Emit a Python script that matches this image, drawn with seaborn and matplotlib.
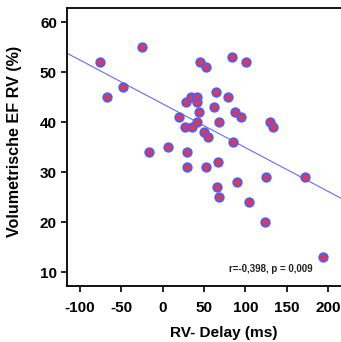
import numpy as np
import pandas as pd
import matplotlib
matplotlib.use("Agg")
import matplotlib.pyplot as plt
import seaborn as sns

rv_delay = [-76, -66.7, -48, -25.5, -16, 6, 20, 27, 28, 29.5, 29, 34, 36, 41, 42, 41,
            44, 45, 50.5, 53, 53, 55, 62, 64, 66, 67, 68, 68.7, 79, 84, 85, 87.7, 90,
            95, 101, 104.6, 124, 125, 130, 133, 171.7, 193.5]
ef_rv = [52, 45, 47, 55, 34, 35, 41, 39, 44, 34, 31, 45, 39, 45, 44, 40,
         42, 52, 38, 51, 31, 37, 43, 46, 27, 32, 25, 40, 45, 53, 36, 42, 28,
         41, 52, 24, 20, 29, 40, 39, 29, 13]
x_ticks = [-100, -50, 0, 50, 100, 150, 200]
y_ticks = [10, 20, 30, 40, 50, 60]
annotation = "r=-0,398, p = 0,009"

df = pd.DataFrame({"x": rv_delay, "y": ef_rv})

sns.set_style("ticks")
plt.rcParams["font.family"] = ["Liberation Sans", "DejaVu Sans"]
plt.rcParams["axes.unicode_minus"] = False

fig = plt.figure(figsize=(3.41, 3.42), dpi=100)
ax = fig.add_axes([0.1955, 0.1637, 0.815, 0.812])
ax.set_xlim(-116, 220)
ax.set_ylim(7.25, 62.8)

slope, intercept = np.polyfit(df["x"], df["y"], 1)
xs = np.array([-116, 220])
ax.plot(xs, slope * xs + intercept, color="#6a6af0", lw=0.8, zorder=1)

sns.scatterplot(data=df, x="x", y="y", ax=ax, s=34, color="#ee3344",
                edgecolor="#5a5ae6", linewidth=1.6, zorder=2, legend=False)

ax.set_xticks(x_ticks)
ax.set_yticks(y_ticks)
ax.tick_params(axis="both", direction="out", length=4, width=1.2, colors="black",
               labelcolor="black", labelsize=11)
ax.tick_params(axis="x", pad=7)
ax.tick_params(axis="y", pad=3)
for lab in ax.get_xticklabels() + ax.get_yticklabels():
    lab.set_fontweight("bold")
for sp in ax.spines.values():
    sp.set_color("black")
    sp.set_linewidth(1.3)

ax.set_xlabel("RV- Delay (ms)", fontsize=11.1, fontweight="bold", color="black",
              va="center")
ax.xaxis.set_label_coords(0.566, -0.169)
ax.set_ylabel("Volumetrische EF RV (%)", fontsize=11.6, fontweight="bold",
              color="black", va="center")
ax.yaxis.set_label_coords(-0.186, 0.522)

ax.text(0.735, 0.061, annotation, transform=ax.transAxes, fontsize=7,
        fontweight="bold", ha="center", va="center", color="#222222")

fig.savefig("out.png", dpi=100)
